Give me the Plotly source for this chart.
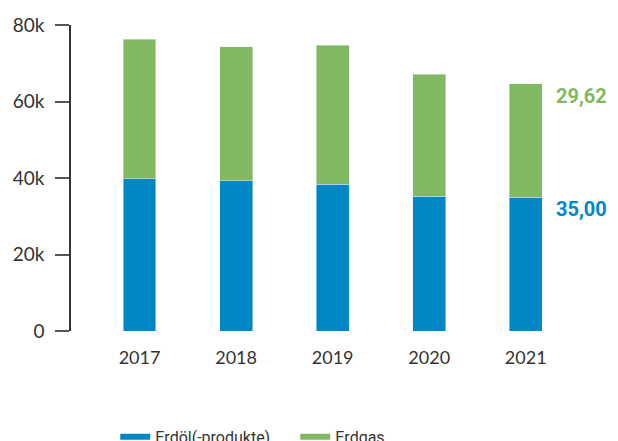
import plotly.graph_objects as go

years = ["2017", "2018", "2019", "2020", "2021"]
erdoel = [39740, 39220, 38430, 35290, 35000]
erdgas = [36600, 35030, 36340, 31900, 29620]
label_erdoel = "35,00"
label_erdgas = "29,62"
y_tickvals = [0, 20000, 40000, 60000, 80000]
y_ticktext = ["0", "20k", "40k", "60k", "80k"]

BLUE = "#0088c6"
GREEN = "#80b961"

fig = go.Figure()
fig.add_trace(go.Bar(x=years, y=erdoel, marker_color=BLUE, name="Erdöl(-produkte)", showlegend=False))
fig.add_trace(go.Bar(x=years, y=erdgas, marker_color=GREEN, name="Erdgas", showlegend=False))
# legend entries drawn as short thick lines
fig.add_trace(go.Scatter(x=[None], y=[None], mode="lines", line=dict(color=BLUE, width=6), name="Erdöl(-produkte)"))
fig.add_trace(go.Scatter(x=[None], y=[None], mode="lines", line=dict(color=GREEN, width=6), name="Erdgas"))

last_idx = len(years) - 1
total_last = erdoel[-1] + erdgas[-1]
fig.add_annotation(x=last_idx, y=total_last, text="<b>" + label_erdgas + "</b>", showarrow=False,
                   xanchor="left", yanchor="top", xshift=28, yshift=2,
                   font=dict(family="Roboto", size=20, color=GREEN))
fig.add_annotation(x=last_idx, y=erdoel[-1], text="<b>" + label_erdoel + "</b>", showarrow=False,
                   xanchor="left", yanchor="top", xshift=28, yshift=2,
                   font=dict(family="Roboto", size=20, color=BLUE))

fig.update_layout(
    width=618, height=441,
    margin=dict(l=63, r=52, t=17, b=118, autoexpand=False),
    barmode="stack", bargap=0.66,
    plot_bgcolor="white", paper_bgcolor="white",
    font=dict(family="Lato", color="#333333"),
    showlegend=True,
    legend=dict(orientation="h", x=0.088, xanchor="left", y=-0.29, yanchor="top", traceorder="normal",
                font=dict(family="Roboto", size=16, color="#333333"),
                entrywidth=135, entrywidthmode="pixels"),
    xaxis=dict(type="category", range=[-0.71, 4.5], showline=False, showgrid=False, zeroline=False,
               automargin=False,
               ticks="outside", ticklen=10, tickcolor="rgba(0,0,0,0)",
               tickfont=dict(family="Lato", size=18, color="#333333")),
    yaxis=dict(range=[0, 80000], tickvals=y_tickvals, ticktext=y_ticktext, showgrid=False, zeroline=False,
               automargin=False,
               showline=True, linecolor="#333333", linewidth=1.5,
               ticks="outside", ticklen=14, tickcolor="#555555", tickwidth=1.5, ticklabelstandoff=7,
               tickfont=dict(family="Lato", size=19, color="#333333")),
)

fig.write_html("out.html")
